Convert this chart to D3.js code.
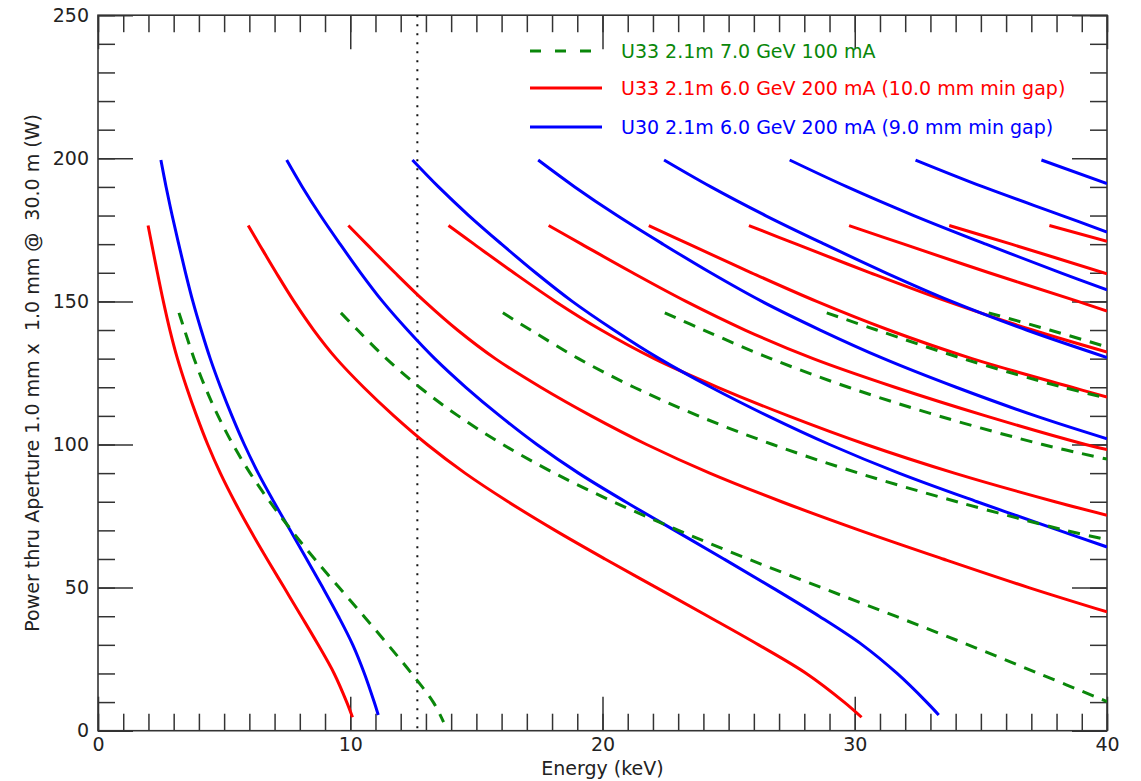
<!DOCTYPE html>
<html>
<head>
<meta charset="utf-8">
<script src="https://cdn.jsdelivr.net/npm/d3@7/dist/d3.min.js"></script>
<style>
  html, body { margin: 0; padding: 0; background: #fff; }
  svg { display: block; font-family: "DejaVu Sans", sans-serif; }
</style>
</head>
<body>
<svg id="chart" width="1141" height="781"></svg>
<script>
// ---------------- data: [energy keV, power W] ----------------
// U33 2.1m 7.0 GeV 100 mA (green dashed), harmonics 1,3,5,7,9,11
const green_h1  = [[3.21,146],[3.43,140],[3.81,130],[4.25,120],[4.76,110],[5.35,100],[6.03,90],[6.81,80],[7.67,70],[8.59,60],[9.56,50],[10.54,40],[11.50,30],[12.43,20],[13.29,10],[13.70,3]];
const green_h3  = [[9.63,146],[10.29,140],[11.43,130],[12.75,120],[14.28,110],[16.05,100],[18.09,90],[20.43,80],[23.01,70],[25.77,60],[28.68,50],[31.62,40],[34.50,30],[37.29,20],[40,10.2]];
const green_h5  = [[16.05,146],[17.15,140],[19.05,130],[21.25,120],[23.80,110],[26.75,100],[30.15,90],[34.05,80],[38.35,70],[40,66.8]];
const green_h7  = [[22.47,146],[24.01,140],[26.67,130],[29.75,120],[33.32,110],[37.45,100],[40,94.9]];
const green_h9  = [[28.89,146],[30.87,140],[34.29,130],[38.25,120],[40,116.2]];
const green_h11 = [[35.31,146],[37.73,140],[40,134.1]];

// U33 2.1m 6.0 GeV 200 mA (red), harmonics 1..19
const red_h1  = [[1.985,176.5],[2.13,170],[2.355,160],[2.59,150],[2.85,140],[3.15,130],[3.51,120],[3.91,110],[4.35,100],[4.85,90],[5.42,80],[6.04,70],[6.70,60],[7.38,50],[8.06,40],[8.73,30],[9.36,20],[9.86,10],[10.09,4.7]];
const red_h3  = [[5.955,176.5],[6.39,170],[7.065,160],[7.77,150],[8.55,140],[9.45,130],[10.53,120],[11.73,110],[13.05,100],[14.55,90],[16.26,80],[18.12,70],[20.10,60],[22.14,50],[24.18,40],[26.19,30],[28.08,20],[29.58,10],[30.27,4.7]];
const red_h5  = [[9.925,176.5],[10.65,170],[11.775,160],[12.95,150],[14.25,140],[15.75,130],[17.55,120],[19.55,110],[21.75,100],[24.25,90],[27.10,80],[30.20,70],[33.50,60],[36.90,50],[40,41.5]];
const red_h7  = [[13.895,176.5],[14.91,170],[16.485,160],[18.13,150],[19.95,140],[22.05,130],[24.57,120],[27.37,110],[30.45,100],[33.95,90],[37.94,80],[40,75.3]];
const red_h9  = [[17.865,176.5],[19.17,170],[21.195,160],[23.31,150],[25.65,140],[28.35,130],[31.59,120],[35.19,110],[39.15,100],[40,98.2]];
const red_h11 = [[21.835,176.5],[23.43,170],[25.905,160],[28.49,150],[31.35,140],[34.65,130],[38.61,120],[40,116.6]];
const red_h13 = [[25.805,176.5],[27.69,170],[30.615,160],[33.67,150],[37.05,140],[40,132.3]];
const red_h15 = [[29.775,176.5],[31.95,170],[35.325,160],[38.85,150],[40,146.6]];
const red_h17 = [[33.745,176.5],[36.21,170],[40,159.6]];
const red_h19 = [[37.715,176.5],[40,171]];

// U30 2.1m 6.0 GeV 200 mA (blue), harmonics 1..15
const blue_h1  = [[2.493,199.4],[2.70,190],[2.94,180],[3.20,170],[3.47,160],[3.76,150],[4.09,140],[4.45,130],[4.86,120],[5.31,110],[5.80,100],[6.35,90],[6.97,80],[7.62,70],[8.27,60],[8.91,50],[9.53,40],[10.10,30],[10.56,20],[10.95,10],[11.11,5.5]];
const blue_h3  = [[7.48,199.4],[8.10,190],[8.82,180],[9.60,170],[10.41,160],[11.28,150],[12.27,140],[13.35,130],[14.58,120],[15.93,110],[17.40,100],[19.05,90],[20.91,80],[22.86,70],[24.81,60],[26.73,50],[28.59,40],[30.30,30],[31.68,20],[32.85,10],[33.33,5.5]];
const blue_h5  = [[12.465,199.4],[13.50,190],[14.70,180],[16.00,170],[17.35,160],[18.80,150],[20.45,140],[22.25,130],[24.30,120],[26.55,110],[29.00,100],[31.75,90],[34.85,80],[38.10,70],[40,64.2]];
const blue_h7  = [[17.45,199.4],[18.90,190],[20.58,180],[22.40,170],[24.29,160],[26.32,150],[28.63,140],[31.15,130],[34.02,120],[37.17,110],[40,102]];
const blue_h9  = [[22.44,199.4],[24.30,190],[26.46,180],[28.80,170],[31.23,160],[33.84,150],[36.81,140],[40,130.4]];
const blue_h11 = [[27.42,199.4],[29.70,190],[32.34,180],[35.20,170],[38.17,160],[40,154]];
const blue_h13 = [[32.41,199.4],[35.10,190],[38.22,180],[40,174.2]];
const blue_h15 = [[37.40,199.4],[40,191.2]];

const greenCurves = [green_h1, green_h3, green_h5, green_h7, green_h9, green_h11];
const redCurves   = [red_h1, red_h3, red_h5, red_h7, red_h9, red_h11, red_h13, red_h15, red_h17, red_h19];
const blueCurves  = [blue_h1, blue_h3, blue_h5, blue_h7, blue_h9, blue_h11, blue_h13, blue_h15];

const legendLabels = [
  "U33 2.1m 7.0 GeV 100 mA",
  "U33 2.1m 6.0 GeV 200 mA (10.0 mm min gap)",
  "U30 2.1m 6.0 GeV 200 mA (9.0 mm min gap)"
];
const xMajorTicks = [0, 10, 20, 30, 40];
const yMajorTicks = [0, 50, 100, 150, 200, 250];
const markerEnergy = 12.66;   // vertical dotted line
const xLabel = "Energy (keV)";
const yLabel = "Power thru Aperture 1.0 mm x  1.0 mm @  30.0 m (W)";

// ---------------- drawing ----------------
const svg = d3.select("#chart");
const L = 98, R = 1107, T = 15.2, B = 730.7;
const x = d3.scaleLinear().domain([0, 40]).range([L, R]);
const y = d3.scaleLinear().domain([0, 250]).range([B, T]);
const axisColor = "#333";
const GREEN = "#0a870a", RED = "#ff0000", BLUE = "#0000ff";
const FS = "19px";

svg.append("defs").append("clipPath").attr("id", "plotclip")
  .append("rect").attr("x", L).attr("y", T).attr("width", R - L).attr("height", B - T);

function styleAxis(g) {
  g.select(".domain").remove();
  g.selectAll(".tick line").attr("stroke", axisColor).attr("stroke-width", 1.5);
  g.selectAll(".tick text").attr("fill", "#222").style("font-size", FS)
    .style("font-family", "'DejaVu Sans', sans-serif");
}

const xMinor = d3.range(0, 41, 1);
const yMinor = d3.range(0, 251, 10);

// bottom
svg.append("g").attr("transform", `translate(0,${B})`)
  .call(d3.axisBottom(x).tickValues(xMinor).tickSize(-17).tickFormat(""))
  .call(styleAxis);
svg.append("g").attr("transform", `translate(0,${B})`)
  .call(d3.axisBottom(x).tickValues(xMajorTicks).tickSize(-34).tickPadding(7).tickFormat(d3.format("d")))
  .call(styleAxis);
// top
svg.append("g").attr("transform", `translate(0,${T})`)
  .call(d3.axisTop(x).tickValues(xMinor).tickSize(-17).tickFormat(""))
  .call(styleAxis);
svg.append("g").attr("transform", `translate(0,${T})`)
  .call(d3.axisTop(x).tickValues(xMajorTicks).tickSize(-34).tickFormat(""))
  .call(styleAxis);
// left
svg.append("g").attr("transform", `translate(${L},0)`)
  .call(d3.axisLeft(y).tickValues(yMinor).tickSize(-17).tickFormat(""))
  .call(styleAxis);
svg.append("g").attr("transform", `translate(${L},0)`)
  .call(d3.axisLeft(y).tickValues(yMajorTicks).tickSize(-35).tickPadding(9).tickFormat(d3.format("d")))
  .call(styleAxis);
// right
svg.append("g").attr("transform", `translate(${R},0)`)
  .call(d3.axisRight(y).tickValues(yMinor).tickSize(-17).tickFormat(""))
  .call(styleAxis);
svg.append("g").attr("transform", `translate(${R},0)`)
  .call(d3.axisRight(y).tickValues(yMajorTicks).tickSize(-35).tickFormat(""))
  .call(styleAxis);

// frame
svg.append("rect").attr("x", L).attr("y", T).attr("width", R - L).attr("height", B - T)
  .attr("fill", "none").attr("stroke", axisColor).attr("stroke-width", 1.6);

// dotted marker
svg.append("line")
  .attr("x1", x(markerEnergy)).attr("x2", x(markerEnergy))
  .attr("y1", y(250)).attr("y2", y(0))
  .attr("stroke", "#111").attr("stroke-width", 2).attr("stroke-dasharray", "2,7");

const line = d3.line().x(d => x(d[0])).y(d => y(d[1])).curve(d3.curveCatmullRom.alpha(0.5));
const plot = svg.append("g").attr("clip-path", "url(#plotclip)");

function drawSet(curves, color, dash) {
  plot.append("g").selectAll("path").data(curves).join("path")
    .attr("d", line)
    .attr("fill", "none")
    .attr("stroke", color)
    .attr("stroke-width", 3)
    .attr("stroke-linejoin", "round")
    .attr("stroke-dasharray", dash || null);
}
drawSet(redCurves, RED);
drawSet(blueCurves, BLUE);
drawSet(greenCurves, GREEN, "12,9");

// legend
const legendColors = [GREEN, RED, BLUE];
const legendDash = ["11,14", null, null];
const legendY = [51, 88, 127];
const lg = svg.append("g");
legendLabels.forEach((lab, i) => {
  lg.append("line").attr("x1", 530).attr("x2", 602).attr("y1", legendY[i]).attr("y2", legendY[i])
    .attr("stroke", legendColors[i]).attr("stroke-width", 3)
    .attr("stroke-dasharray", legendDash[i]);
  lg.append("text").attr("x", 621).attr("y", legendY[i]).attr("dy", "0.35em")
    .attr("fill", legendColors[i]).style("font-size", FS).text(lab);
});

// axis titles
svg.append("text").attr("x", (L + R) / 2).attr("y", 775).attr("text-anchor", "middle")
  .attr("fill", "#222").style("font-size", FS).text(xLabel);
svg.append("text").attr("transform", `translate(39,${(T + B) / 2}) rotate(-90)`)
  .attr("text-anchor", "middle").attr("fill", "#222").style("font-size", FS)
  .style("white-space", "pre").text(yLabel);
</script>
</body>
</html>
